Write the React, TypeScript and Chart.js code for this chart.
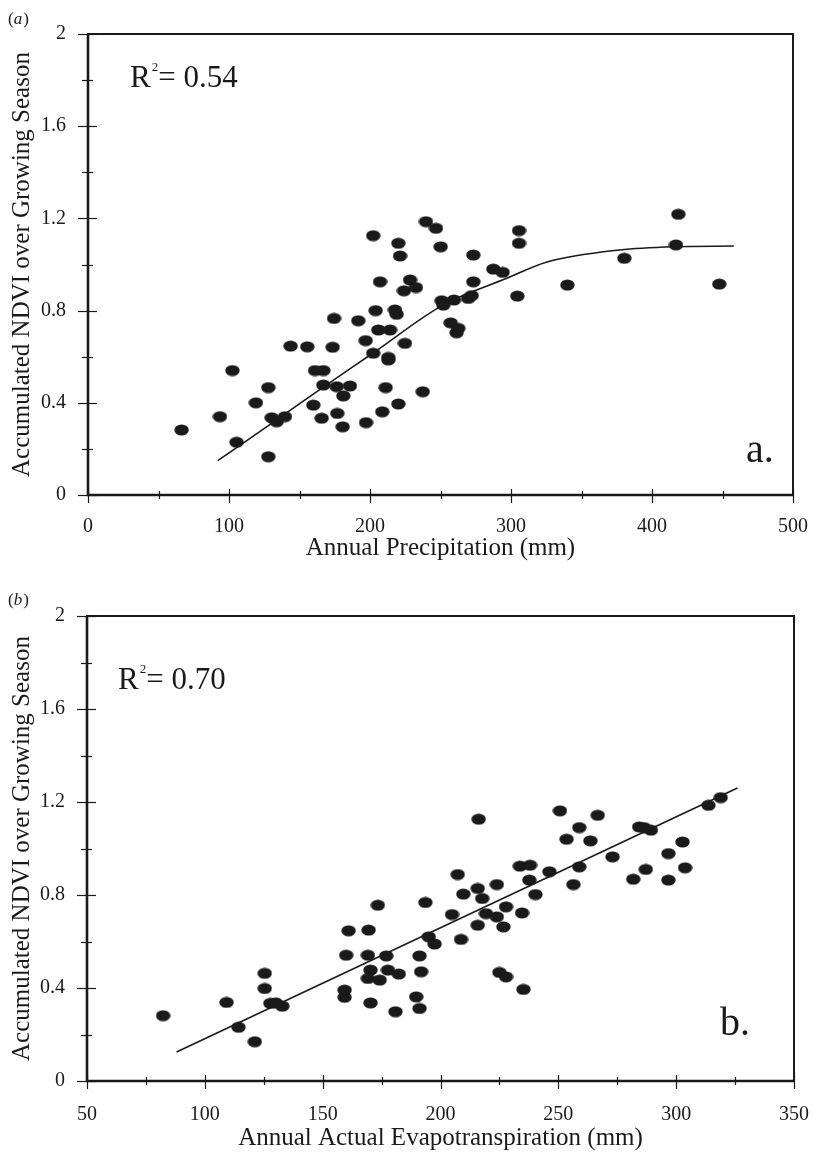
import React, { useEffect, useRef } from 'react';
import { Chart, registerables } from 'chart.js';

Chart.register(...registerables);

// ---------- Panel (a): precipitation ----------
const precipX = [66.4, 93.6, 102.4, 105.4, 119.1, 127.9, 127.9, 130.3, 133.8, 139.7, 143.7, 155.5, 161, 166.9, 159.8, 165.7, 166.9, 173.5, 174.5, 176.4, 181.1, 185.8, 176.8, 180.6, 191.7, 196.9, 197.2, 202.3, 204, 205.9, 207.1, 208.7, 211.1, 213, 213, 214.2, 217.7, 218.9, 220.1, 224.8, 221.3, 220.1, 202.3, 224.1, 228.4, 232.6, 237.4, 239.7, 246.8, 250.1, 250.8, 252, 257.2, 262.6, 261.4, 259.6, 269.7, 272.1, 273.3, 273.3, 287.5, 294.1, 304.5, 305.7, 305.7, 340, 380.4, 417, 418.7, 447.7];
const precipY = [0.282, 0.34, 0.54, 0.229, 0.4, 0.466, 0.166, 0.335, 0.318, 0.34, 0.646, 0.643, 0.54, 0.54, 0.39, 0.333, 0.477, 0.641, 0.766, 0.47, 0.43, 0.473, 0.354, 0.296, 0.756, 0.67, 0.314, 0.615, 0.8, 0.716, 0.925, 0.361, 0.466, 0.597, 0.586, 0.716, 0.803, 0.784, 0.395, 0.658, 1.037, 1.092, 1.125, 0.886, 0.933, 0.9, 0.448, 1.186, 1.157, 1.077, 0.843, 0.824, 0.747, 0.723, 0.704, 0.846, 0.853, 0.865, 0.925, 1.041, 0.98, 0.966, 0.863, 1.092, 1.147, 0.911, 1.027, 1.085, 1.218, 0.915];
const fitAX = [92, 130, 172, 202, 252, 297, 325, 377, 415, 458];
const fitAY = [0.149, 0.31, 0.49, 0.615, 0.825, 0.94, 1.01, 1.063, 1.077, 1.08];

// ---------- Panel (b): actual evapotranspiration ----------
const etX = [82.3, 109.2, 114.3, 121.2, 125.4, 125.4, 127.8, 130.1, 132.9, 160, 161, 159.3, 159.3, 169.5, 169.2, 170.3, 169.2, 174.2, 170.3, 173.4, 177, 177.7, 182.3, 180.9, 191.1, 191.8, 189.7, 191.1, 193.6, 195, 197.5, 204.9, 207.3, 208.7, 209.7, 215.8, 217.7, 216.2, 215.8, 219.3, 223.9, 223.9, 225, 227.8, 227.8, 226.7, 233.7, 238, 234.6, 235.2, 237.7, 240.3, 246.2, 250.7, 253.5, 256.4, 258.9, 258.9, 263.6, 266.7, 273, 281.8, 284.3, 286.4, 287.1, 289.3, 296.7, 296.7, 302.7, 303.8, 313.7, 318.9];
const etY = [0.281, 0.338, 0.231, 0.169, 0.463, 0.398, 0.334, 0.336, 0.322, 0.541, 0.646, 0.391, 0.36, 0.649, 0.541, 0.477, 0.441, 0.434, 0.336, 0.756, 0.538, 0.477, 0.46, 0.298, 0.538, 0.47, 0.362, 0.312, 0.768, 0.62, 0.589, 0.716, 0.888, 0.609, 0.804, 0.828, 0.785, 1.126, 0.67, 0.72, 0.706, 0.845, 0.467, 0.448, 0.749, 0.663, 0.924, 0.928, 0.723, 0.394, 0.864, 0.802, 0.9, 1.162, 1.04, 0.845, 0.921, 1.09, 1.033, 1.143, 0.964, 0.868, 1.093, 1.09, 0.91, 1.079, 0.978, 0.864, 1.028, 0.917, 1.186, 1.219];
const fitBX = [88, 326];
const fitBY = [0.125, 1.26];

// ---------- Ticks ----------
const yTickValues = [0, 0.2, 0.4, 0.6, 0.8, 1.0, 1.2, 1.4, 1.6, 1.8, 2.0];
const yTickLabels = ['0', '', '0.4', '', '0.8', '', '1.2', '', '1.6', '', '2'];
const xaTickValues = [0, 50, 100, 150, 200, 250, 300, 350, 400, 450, 500];
const xaTickLabels = ['0', '', '100', '', '200', '', '300', '', '400', '', '500'];
const xbTickValues = [50, 75, 100, 125, 150, 175, 200, 225, 250, 275, 300, 325, 350];
const xbTickLabels = ['50', '', '100', '', '150', '', '200', '', '250', '', '300', '', '350'];

const Y_TITLE = 'Accumulated NDVI over Growing Season';
const XA_TITLE = 'Annual Precipitation (mm)';
const XB_TITLE = 'Annual Actual Evapotranspiration (mm)';

const FONT = '"Liberation Serif", "Times New Roman", serif';
const INK = '#1a1a1a';

const frameTicksPlugin = {
  id: 'frameTicks',
  afterDraw(chart: any) {
    const { ctx, chartArea: a } = chart;
    const xs = chart.scales.x;
    const ys = chart.scales.y;
    ctx.save();
    ctx.strokeStyle = INK;
    ctx.lineWidth = 2;
    ctx.strokeRect(a.left, a.top, a.right - a.left, a.bottom - a.top);
    ctx.lineWidth = 2.6;
    ctx.beginPath();
    ctx.moveTo(a.left, a.top);
    ctx.lineTo(a.left, a.bottom);
    ctx.lineTo(a.right, a.bottom);
    ctx.stroke();
    ctx.lineWidth = 1.2;
    ys.ticks.forEach((t: any) => {
      const py = Math.round(ys.getPixelForValue(t.value)) + 0.5;
      const major = t.label !== '';
      const out = major ? 10 : 6;
      const inn = major ? 9 : 5;
      ctx.beginPath();
      ctx.moveTo(a.left - out, py);
      ctx.lineTo(a.left + inn, py);
      ctx.stroke();
    });
    xs.ticks.forEach((t: any) => {
      const px = Math.round(xs.getPixelForValue(t.value)) + 0.5;
      const major = t.label !== '';
      const out = major ? 8 : 4;
      const inn = major ? 6 : 4;
      ctx.beginPath();
      ctx.moveTo(px, a.bottom + out);
      ctx.lineTo(px, a.bottom - inn);
      ctx.stroke();
    });
    ctx.restore();
  },
};

const panelTextPlugin = {
  id: 'panelText',
  afterDraw(chart: any, _args: any, opts: any) {
    const { ctx } = chart;
    ctx.save();
    ctx.fillStyle = INK;
    ctx.textBaseline = 'alphabetic';
    ctx.textAlign = 'left';
    // (a) / (b)
    let x = 8;
    ctx.font = `17px ${FONT}`;
    ctx.fillText('(', x, opts.tagY);
    x += ctx.measureText('(').width;
    ctx.font = `italic 17px ${FONT}`;
    ctx.fillText(opts.tag, x, opts.tagY);
    x += ctx.measureText(opts.tag).width + 1;
    ctx.font = `17px ${FONT}`;
    ctx.fillText(')', x, opts.tagY);
    // R^2
    let rx = opts.rX;
    ctx.font = `31px ${FONT}`;
    ctx.fillText('R', rx, opts.rY);
    rx += ctx.measureText('R').width + 1;
    ctx.font = `13px ${FONT}`;
    ctx.fillText('2', rx, opts.rY - 16);
    rx += ctx.measureText('2').width;
    ctx.font = `31px ${FONT}`;
    ctx.fillText('= ' + opts.r2, rx, opts.rY);
    // corner letter
    ctx.font = `40px ${FONT}`;
    ctx.fillText(opts.letter, opts.letterX, opts.letterY);
    ctx.restore();
  },
};

function makeDot(): HTMLCanvasElement {
  const c = document.createElement('canvas');
  c.width = 15;
  c.height = 12;
  const g = c.getContext('2d')!;
  g.fillStyle = INK;
  g.beginPath();
  g.ellipse(7.5, 6, 7.2, 5.6, 0, 0, Math.PI * 2);
  g.fill();
  return c;
}

type PanelCfg = {
  height: number;
  padTop: number;
  padRight: number;
  yWidth: number;
  xHeight: number;
  xMin: number;
  xMax: number;
  xTickValues: number[];
  xTickLabels: string[];
  xTitle: string;
  xTitlePadBottom: number;
  xLabelPad: number;
  pxs: number[];
  pys: number[];
  fxs: number[];
  fys: number[];
  text: any;
};

function Panel({ cfg, top }: { cfg: PanelCfg; top: number }) {
  const ref = useRef<HTMLCanvasElement>(null);
  useEffect(() => {
    const dot = makeDot();
    const chart = new Chart(ref.current!, {
      type: 'scatter',
      data: {
        datasets: [
          {
            data: cfg.pxs.map((v, i) => ({ x: v, y: cfg.pys[i] })),
            pointStyle: dot as any,
            pointRadius: 6,
            backgroundColor: INK,
            borderColor: INK,
            showLine: false,
          },
          {
            data: cfg.fxs.map((v, i) => ({ x: v, y: cfg.fys[i] })),
            showLine: true,
            pointRadius: 0,
            borderColor: INK,
            borderWidth: 1.6,
            cubicInterpolationMode: 'monotone',
            fill: false,
          } as any,
        ],
      },
      options: {
        animation: false,
        responsive: false,
        devicePixelRatio: 1,
        layout: { padding: { top: cfg.padTop, right: cfg.padRight, left: 0, bottom: 0 } },
        plugins: {
          legend: { display: false },
          tooltip: { enabled: false },
          panelText: cfg.text,
        } as any,
        scales: {
          x: {
            type: 'linear',
            min: cfg.xMin,
            max: cfg.xMax,
            afterBuildTicks: (s: any) => {
              s.ticks = cfg.xTickValues.map((v) => ({ value: v }));
            },
            afterFit: (s: any) => {
              s.height = cfg.xHeight;
              s.paddingLeft = 0;
              s.paddingRight = 0;
            },
            ticks: {
              autoSkip: false,
              maxRotation: 0,
              padding: cfg.xLabelPad,
              color: INK,
              font: { family: FONT, size: 20 },
              callback: (_v: any, i: number) => cfg.xTickLabels[i],
            },
            grid: { display: false, drawTicks: false },
            border: { display: false },
            title: {
              display: true,
              text: cfg.xTitle,
              color: INK,
              font: { family: FONT, size: 25 },
              padding: { top: 0, bottom: cfg.xTitlePadBottom },
            },
          },
          y: {
            type: 'linear',
            min: 0,
            max: 2,
            afterBuildTicks: (s: any) => {
              s.ticks = yTickValues.map((v) => ({ value: v }));
            },
            afterFit: (s: any) => {
              s.width = cfg.yWidth;
              s.paddingTop = 0;
              s.paddingBottom = 0;
            },
            ticks: {
              autoSkip: false,
              padding: 22,
              color: INK,
              font: { family: FONT, size: 20 },
              callback: (_v: any, i: number) => yTickLabels[i],
            },
            grid: { display: false, drawTicks: false },
            border: { display: false },
            title: {
              display: true,
              text: Y_TITLE,
              color: INK,
              font: { family: FONT, size: 25 },
              padding: { top: 7, bottom: 0 },
            },
          },
        },
      },
      plugins: [frameTicksPlugin, panelTextPlugin],
    });
    return () => chart.destroy();
  }, []);
  return (
    <div style={{ position: 'absolute', left: 0, top, width: 813, height: cfg.height }}>
      <canvas ref={ref} width={813} height={cfg.height} style={{ display: 'block' }} />
    </div>
  );
}

const panelA: PanelCfg = {
  height: 570,
  padTop: 34,
  padRight: 20,
  yWidth: 88,
  xHeight: 75,
  xMin: 0,
  xMax: 500,
  xTickValues: xaTickValues,
  xTickLabels: xaTickLabels,
  xTitle: XA_TITLE,
  xTitlePadBottom: 7,
  xLabelPad: 20,
  pxs: precipX,
  pys: precipY,
  fxs: fitAX,
  fys: fitAY,
  text: { tag: 'a', tagY: 24, rX: 130, rY: 87, r2: '0.54', letter: 'a.', letterX: 746, letterY: 462 },
};

const panelB: PanelCfg = {
  height: 584,
  padTop: 46,
  padRight: 19,
  yWidth: 87,
  xHeight: 73,
  xMin: 50,
  xMax: 350,
  xTickValues: xbTickValues,
  xTickLabels: xbTickLabels,
  xTitle: XB_TITLE,
  xTitlePadBottom: 1,
  xLabelPad: 22,
  pxs: etX,
  pys: etY,
  fxs: fitBX,
  fys: fitBY,
  text: { tag: 'b', tagY: 35, rX: 118, rY: 119, r2: '0.70', letter: 'b.', letterX: 720, letterY: 465 },
};

export default function App() {
  return (
    <div style={{ position: 'absolute', left: 0, top: 0, width: 813, height: 1154, overflow: 'hidden', background: '#fff' }}>
      <Panel cfg={panelA} top={0} />
      <Panel cfg={panelB} top={570} />
    </div>
  );
}
